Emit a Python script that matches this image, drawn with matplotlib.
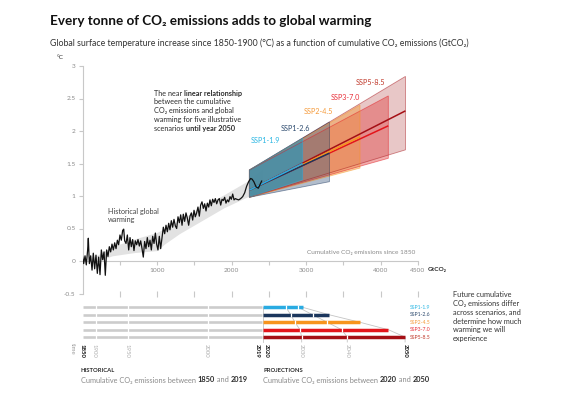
import matplotlib
matplotlib.use("Agg")
import matplotlib.pyplot as plt
from matplotlib import transforms as mtransforms

W, H, DPI = 564, 399, 100
FAM = ["Lato", "DejaVu Sans"]
plt.rcParams["font.family"] = FAM

# ---------------- data ----------------
hist_x = [0, 16, 34, 51, 69, 78, 92, 110, 128, 145,
          163, 181, 199, 217, 235, 253, 271, 289, 306, 324,
          342, 360, 378, 396, 414, 432, 450, 468, 485, 503,
          521, 539, 553, 566, 584, 602, 620, 638, 655, 673,
          691, 709, 727, 745, 763, 781, 799, 816, 834, 852,
          870, 888, 906, 924, 942, 960, 978, 995, 1013, 1031,
          1049, 1067, 1085, 1103, 1121, 1139, 1157, 1174, 1192, 1210,
          1228, 1246, 1264, 1282, 1300, 1318, 1336, 1353, 1371, 1389,
          1407, 1425, 1443, 1461, 1479, 1497, 1514, 1532, 1550, 1568,
          1586, 1604, 1622, 1640, 1658, 1676, 1694, 1711, 1729, 1747,
          1765, 1783, 1801, 1819, 1837, 1855, 1873, 1890, 1908, 1926,
          1944, 1962, 1980, 1998, 2016, 2034, 2052, 2070, 2096, 2123,
          2150, 2177, 2203, 2230, 2257, 2276, 2300, 2330, 2360, 2385,
          2405]
hist_y = [0.07, -0.04, 0.08, -0.06, 0.17, 0.35, -0.04, 0.08, -0.14, 0.12,
          -0.12, 0.09, -0.19, 0.06, -0.21, 0.17, 0.02, 0.14, -0.22, 0.17,
          0.07, 0.22, 0.14, 0.26, 0.17, 0.28, 0.19, 0.32, 0.25, 0.40,
          0.32, 0.47, 0.49, 0.31, 0.27, 0.40, 0.17, 0.36, 0.22, 0.33,
          0.16, 0.31, 0.25, 0.33, 0.23, 0.31, 0.19, 0.06, 0.30, 0.19,
          0.36, 0.22, 0.32, 0.17, 0.38, 0.27, 0.43, 0.26, 0.17, 0.38,
          0.19, 0.36, 0.52, 0.42, 0.55, 0.45, 0.58, 0.48, 0.62, 0.52,
          0.64, 0.54, 0.50, 0.68, 0.59, 0.71, 0.55, 0.72, 0.61, 0.74,
          0.66, 0.55, 0.69, 0.74, 0.63, 0.78, 0.68, 0.74, 0.83, 0.69,
          0.86, 0.91, 0.81, 0.88, 0.77, 0.89, 0.83, 0.94, 0.85, 0.95,
          0.90, 0.96, 0.88, 0.94, 0.96, 0.86, 0.95, 0.93, 0.98, 0.89,
          0.94, 0.91, 0.99, 0.95, 1.03, 0.94, 0.96, 0.95, 0.94, 0.96,
          0.99, 1.05, 1.15, 1.22, 1.27, 1.26, 1.22, 1.14, 1.12, 1.18,
          1.23]

band_x = [150, 400, 700, 1000, 1100, 1300, 1600, 1900, 2200, 2420]
band_lo = [-0.02, 0.08, 0.13, 0.16, 0.26, 0.42, 0.62, 0.82, 0.98, 1.08]
band_hi = [0.06, 0.22, 0.34, 0.44, 0.50, 0.62, 0.84, 1.02, 1.22, 1.42]

ssp_names = ["SSP1-1.9", "SSP1-2.6", "SSP2-4.5", "SSP3-7.0", "SSP5-8.5"]
ssp_colors = ["#29abe2", "#1b365d", "#f7941d", "#e3151b", "#a50f15"]
ssp_text_colors = ["#29b6e3", "#2c4a6e", "#f59a3a", "#e8303a", "#c0392b"]
cone_fill = ["#1a9cc4", "#3d5a80", "#f39a3d", "#e04848", "#c97b7b"]
cone_alpha = [0.6, 0.4, 0.45, 0.45, 0.42]

cone_start_x = 2240
cone_start_lo = 0.98
cone_start_hi = 1.40
line_start_y = 1.09
cone_end_x = [2955, 3315, 3725, 4105, 4335]
cone_end_lo = [1.25, 1.22, 1.43, 1.58, 1.71]
cone_end_hi = [1.89, 2.14, 2.40, 2.54, 2.84]
line_end_y = [1.50, 1.66, 1.91, 2.08, 2.31]

x_ticks = [500, 1000, 1500, 2000, 2500, 3000, 3500, 4000, 4500]
x_tick_labels = ["", "1000", "", "2000", "", "3000", "", "4000", "4500"]
y_ticks = [-0.5, 0, 0.5, 1, 1.5, 2, 2.5, 3]
y_tick_labels = ["-0.5", "0", "0.5", "1", "1.5", "2", "2.5", "3"]

# timeline (cumulative GtCO2 positions)
hist_end_x = 2410          # 2019
proj_start_x = 2420        # 2020
hist_sep_x = [181, 615, 1680]   # 1900, 1950, 2000
ssp_2030_x = [2732, 2795, 2852, 2919, 2942]
ssp_2040_x = [2897, 3090, 3286, 3479, 3554]
ssp_2050_x = [2955, 3313, 3725, 4105, 4330]

year_labels = ["1850", "1900", "1950", "2000", "2019", "2020", "2030", "2040", "2050"]
year_label_x = [0, 181, 615, 1680, 2410, 2420, 2942, 3554, 4330]
year_bold = [True, False, False, False, True, True, False, False, True]
year_shift_px = [0, -1.5, -1.5, -1.5, -4.5, 3.5, 0, 0, 0]

# ---------------- figure ----------------
fig = plt.figure(figsize=(W / DPI, H / DPI), dpi=DPI)
fig.patch.set_facecolor("white")
R = fig.canvas.get_renderer()


def fx(px):
    return px / W


def fy(py):
    return 1 - py / H


def text_w(s, size, bold=False):
    wt = "bold" if bold else "normal"
    t = fig.text(0, 0, s + "|", fontsize=size, fontweight=wt)
    t2 = fig.text(0, 0, "|", fontsize=size, fontweight=wt)
    w = t.get_window_extent(R).width - t2.get_window_extent(R).width
    t.remove()
    t2.remove()
    return w


def fit_size(s, target, bold=False, base=10.0):
    return base * target / text_w(s, base, bold)


def rich(px, py, parts, size, **kw):
    x = px
    for s, bold, color in parts:
        fig.text(fx(x), fy(py), s, fontsize=size,
                 fontweight="bold" if bold else "normal", color=color,
                 va="baseline", ha="left", **kw)
        x += text_w(s, size, bold)


DARK = "#2b2b2b"
GRAY = "#8a8a8a"
AXC = "#c8c8c8"

# title / subtitle
ts = fit_size("Every tonne of CO₂ emissions adds to global warming", 321, True)
fig.text(fx(50), fy(25), "Every tonne of CO₂ emissions adds to global warming",
         fontsize=ts, fontweight="bold", color="#111111", va="baseline")
sub = "Global surface temperature increase since 1850-1900 (°C) as a function of cumulative CO₂ emissions (GtCO₂)"
ss = fit_size(sub, 420)
fig.text(fx(50), fy(45.5), sub, fontsize=ss, color="#333333", va="baseline")

tick_size = fit_size("1000", 15)
fig.text(fx(60), fy(57.5), "°C", fontsize=tick_size, color="#333333", ha="center", va="center")

# main axes
axw = 4700 * 0.0745
ax = fig.add_axes([fx(82.5), fy(293.5), axw / W, 227.5 / H])
ax.set_xlim(0, 4700)
ax.set_ylim(-0.5, 3)
ax.patch.set_alpha(0)
for s in ["top", "right"]:
    ax.spines[s].set_visible(False)
ax.spines["bottom"].set_position(("data", 0))
ax.spines["bottom"].set_bounds(0, 4500)
ax.spines["left"].set_bounds(-0.5, 3)
for s in ["bottom", "left"]:
    ax.spines[s].set_color(AXC)
    ax.spines[s].set_linewidth(0.8)
ax.set_xticks(x_ticks)
ax.set_xticklabels(x_tick_labels)
ax.set_yticks(y_ticks)
ax.set_yticklabels(y_tick_labels)
ax.tick_params(axis="both", colors=AXC, labelcolor=GRAY, labelsize=tick_size,
               length=3, width=0.8, pad=2)
ax.plot(x_ticks, [-0.5] * len(x_ticks), ls="none", marker="|", ms=4, mew=0.8,
        color=AXC, clip_on=False)

# historical band and cones
ax.fill_between(band_x, band_lo, band_hi, color="#e2e2e2", lw=0, zorder=1)
for i in reversed(range(len(ssp_names))):
    xs = [cone_start_x, cone_end_x[i], cone_end_x[i], cone_start_x]
    ys = [cone_start_lo, cone_end_lo[i], cone_end_hi[i], cone_start_hi]
    ax.fill(xs, ys, facecolor=cone_fill[i], alpha=cone_alpha[i], lw=0, zorder=2)
    ax.fill(xs, ys, facecolor="none", edgecolor=ssp_colors[i], alpha=0.5, lw=0.6, zorder=3)
for i in reversed(range(len(ssp_names))):
    ax.plot([cone_start_x, cone_end_x[i]], [line_start_y, line_end_y[i]],
            color=ssp_colors[i], lw=1.1, zorder=4, solid_capstyle="butt")
ax.plot(hist_x, hist_y, color="#111111", lw=0.9, zorder=6)

# labels in main chart
ssp_size = fit_size("SSP1-1.9", 29)
ssp_lab_pos = [(265, 141), (295, 129), (318, 112), (345, 97.5), (370, 82.5)]
for i, (px, py) in enumerate(ssp_lab_pos):
    fig.text(fx(px), fy(py), ssp_names[i], fontsize=ssp_size, color=ssp_text_colors[i],
             ha="center", va="center")

ann = fit_size("between the cumulative", 76.7)
lines = [
    [("The near ", False, DARK), ("linear relationship", True, DARK)],
    [("between the cumulative", False, DARK)],
    [("CO₂ emissions and global", False, DARK)],
    [("warming for five illustrative", False, DARK)],
    [("scenarios ", False, DARK), ("until year 2050", True, DARK)],
]
for k, parts in enumerate(lines):
    rich(154.3, 95.8 + 8.7 * k, parts, ann)

rich(108.3, 214, [("Historical global", False, "#444444")], ann)
rich(108.3, 222, [("warming", False, "#444444")], ann)

fig.text(fx(415), fy(252.7), "Cumulative CO₂ emissions since 1850", fontsize=tick_size,
         color=GRAY, ha="right", va="center")
fig.text(fx(427.5), fy(270), "GtCO₂", fontsize=tick_size, color=DARK,
         fontweight="bold", ha="left", va="center")

# ---------------- timeline panel ----------------
ax2 = fig.add_axes([fx(82.5), 0, axw / W, fy(296)])
ax2.set_xlim(0, 4700)
ax2.set_ylim(399, 296)
ax2.axis("off")
rows = [307.3, 314.8, 322.3, 329.7, 337.1]
LINEC = "#c4c4c4"

# connecting lines
ax2.plot([proj_start_x, proj_start_x], [rows[0], 342], color=LINEC, lw=0.6, zorder=1)
for xs_ in (ssp_2030_x, ssp_2040_x, ssp_2050_x):
    ax2.plot(list(xs_) + [xs_[-1]], rows + [342], color=LINEC, lw=0.6, zorder=1)

for i in range(len(ssp_names)):
    r = rows[i]
    ax2.plot([0, hist_end_x], [r, r], color="#cccccc", lw=1.9, solid_capstyle="butt", zorder=2)
    ax2.plot([proj_start_x, ssp_2050_x[i]], [r, r], color=ssp_colors[i], lw=2.5,
             solid_capstyle="butt", zorder=2)
    seps = hist_sep_x + [ssp_2030_x[i], ssp_2040_x[i]]
    ax2.vlines(seps, r - 2.3, r + 2.3, color="white", lw=0.9, zorder=3)

year_size = fit_size("1850", 14)
for lab, x, b, sh in zip(year_labels, year_label_x, year_bold, year_shift_px):
    tr = mtransforms.offset_copy(ax2.transData, fig=fig, x=sh * 72 / DPI, y=0, units="points")
    ax2.text(x, 343.5, lab, rotation=270, ha="center", va="top", fontsize=year_size,
             fontweight="bold" if b else "normal", color="#111111" if b else "#b0b0b0",
             transform=tr)
fig.text(fx(72.7), fy(349), "time", rotation=270, ha="center", va="center",
         fontsize=year_size, color="#9a9a9a")

leg_size = fit_size("SSP1-1.9", 20.7)
for i in range(len(ssp_names)):
    fig.text(fx(410), fy(rows[i]), ssp_names[i], fontsize=leg_size,
             color=ssp_text_colors[i], ha="left", va="center")

fut = ["Future cumulative", "CO₂ emissions differ", "across scenarios, and",
       "determine how much", "warming we will", "experience"]
fut_size = fit_size("Future cumulative", 59)
for k, s in enumerate(fut):
    fig.text(fx(452.7), fy(297.2 + 8.8 * k), s, fontsize=fut_size, color="#333333",
             ha="left", va="baseline")

cap_size = fit_size("HISTORICAL", 34, True)
fig.text(fx(80.7), fy(372.5), "HISTORICAL", fontsize=cap_size, fontweight="bold",
         color=DARK, va="baseline")
fig.text(fx(263.3), fy(372.5), "PROJECTIONS", fontsize=cap_size, fontweight="bold",
         color=DARK, va="baseline")
desc_size = fit_size("Cumulative CO₂ emissions between 1850 and 2019", 166)
rich(80.7, 382.5, [("Cumulative CO₂ emissions between ", False, GRAY), ("1850", True, DARK),
                   (" and ", False, GRAY), ("2019", True, DARK)], desc_size)
rich(263.3, 382.5, [("Cumulative CO₂ emissions between ", False, GRAY), ("2020", True, DARK),
                    (" and ", False, GRAY), ("2050", True, DARK)], desc_size)

fig.savefig("out.png", dpi=DPI, facecolor="white")
